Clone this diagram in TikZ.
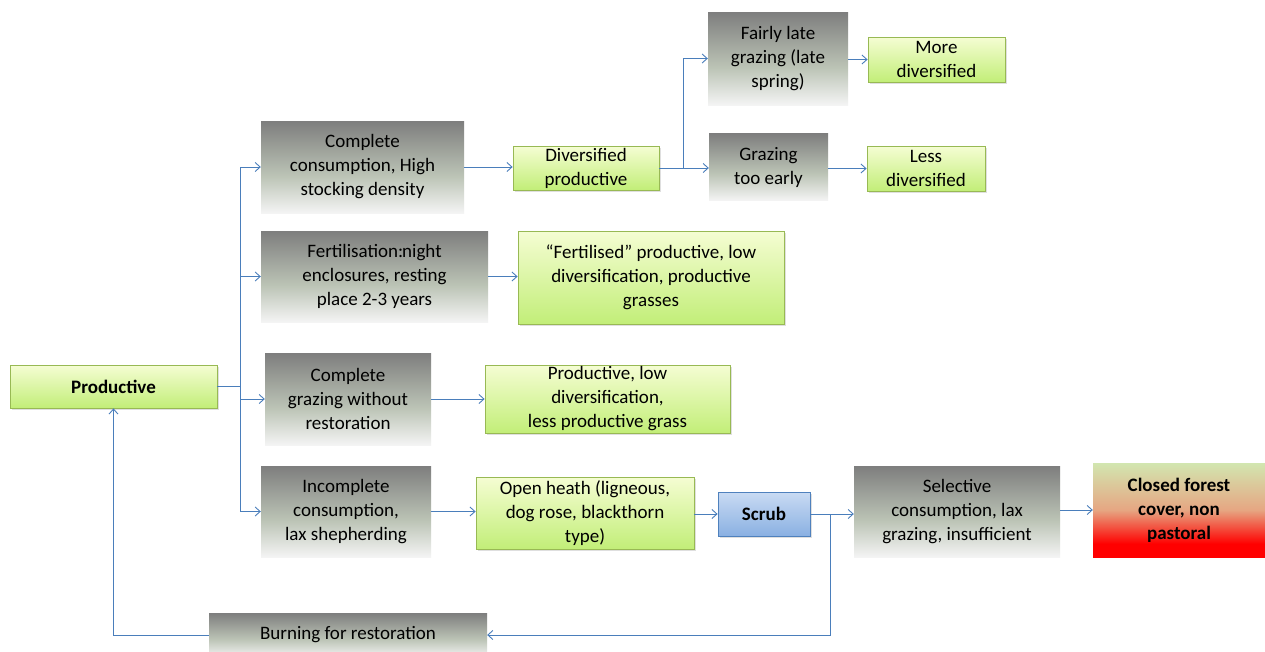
\documentclass[tikz,border=0pt]{standalone}
\usepackage{fontspec}
\setmainfont{Carlito}
\usetikzlibrary{arrows.meta,shadows}
\definecolor{linkblue}{HTML}{4A7EBB}
\definecolor{gtop}{HTML}{7E7E7E}
\definecolor{gmid}{HTML}{BCC4B6}
\definecolor{gbot}{HTML}{F4F4F4}
\definecolor{lgtop}{HTML}{F5FDD3}
\definecolor{lgbot}{HTML}{C2EE78}
\definecolor{lgedge}{HTML}{98B954}
\definecolor{bltop}{HTML}{C9DBF3}
\definecolor{blbot}{HTML}{8AB0E2}
\definecolor{bledge}{HTML}{4F81BD}
\definecolor{ftop}{HTML}{D2E6B0}
\definecolor{fmid}{HTML}{E6A682}
\definecolor{fbot}{HTML}{FF0000}
\pgfdeclareverticalshading{greyfade}{100bp}{color(0bp)=(gbot); color(25bp)=(gbot); color(45bp)=(gmid); color(75bp)=(gtop); color(100bp)=(gtop)}
\pgfdeclareverticalshading{forestfade}{100bp}{color(0bp)=(fbot); color(32bp)=(fbot); color(50bp)=(fmid); color(75bp)=(ftop); color(100bp)=(ftop)}
\tikzset{
  base/.style={rectangle, inner sep=0pt, align=center, font=\fontsize{19}{24}\selectfont},
  greybox/.style={base, shading=greyfade},
  greenbox/.style={base, top color=lgtop, bottom color=lgbot, draw=lgedge, line width=0.8pt,
    drop shadow={opacity=0.25, shadow xshift=2pt, shadow yshift=-2pt}},
  bluebox/.style={base, top color=bltop, bottom color=blbot, draw=bledge, line width=0.8pt,
    font=\fontsize{19}{24}\selectfont\bfseries,
    drop shadow={opacity=0.25, shadow xshift=2pt, shadow yshift=-2pt}},
  forestbox/.style={base, shading=forestfade, font=\fontsize{19}{24}\selectfont\bfseries},
  conn/.style={draw=linkblue, line width=0.9pt},
  arr/.style={conn, -{Straight Barb[length=5pt, width=9pt]}}
}
\begin{document}
\begin{tikzpicture}[x=1pt, y=-1pt]
\useasboundingbox (0,0) rectangle (1265,651);
\fill[white] (0,0) rectangle (1265,651);

% boxes
\node[greenbox, minimum width=207pt, minimum height=43pt, font=\fontsize{19}{24}\selectfont\bfseries] (prod) at (113.5,386.5) {Productive};
\node[greybox, minimum width=203pt, minimum height=92pt] (cc) at (362.5,167) {Complete\\consumption, High\\stocking density};
\node[greenbox, minimum width=146pt, minimum height=44pt] (div) at (586,168) {Diversified\\productive};
\node[greybox, minimum width=140pt, minimum height=93pt] (flg) at (778,58.5) {Fairly late\\grazing (late\\spring)};
\node[greenbox, minimum width=137pt, minimum height=45pt] (more) at (936.5,59.5) {More\\diversified};
\node[greybox, minimum width=119pt, minimum height=67pt] (gte) at (768.5,167) {Grazing\\too early};
\node[greenbox, minimum width=118pt, minimum height=45pt] (less) at (926,168.5) {Less\\diversified};
\node[greybox, minimum width=227pt, minimum height=91pt] (fert) at (374.5,276.5) {Fertilisation:\kern-1pt night\\enclosures, resting\\place 2-3 years};
\node[greenbox, minimum width=266pt, minimum height=93pt] (fprod) at (651,277.5) {“Fertilised” productive, low\\diversification, productive\\grasses};
\node[greybox, minimum width=166pt, minimum height=92pt] (cg) at (348,399) {Complete\\grazing without\\restoration};
\node[greenbox, minimum width=245pt, minimum height=68pt] (plow) at (607.5,399) {Productive, low\\diversification,\\less productive grass};
\node[greybox, minimum width=170pt, minimum height=91pt] (inc) at (346,511.5) {Incomplete\\consumption,\\lax shepherding};
\node[greenbox, minimum width=218pt, minimum height=72pt] (heath) at (585,513) {Open heath (ligneous,\\dog rose, blackthorn\\type)};
\node[bluebox, minimum width=92pt, minimum height=44pt] (scrub) at (764,514) {Scrub};
\node[greybox, minimum width=206pt, minimum height=91pt] (sel) at (957,511.5) {Selective\\consumption, lax\\grazing, insufficient};
\node[forestbox, minimum width=172pt, minimum height=94pt] (forest) at (1179,510) {Closed forest\\cover, non\\pastoral};
\node[greybox, minimum width=278pt, minimum height=44pt] (burn) at (348,635) {Burning for restoration};

% junction points
\coordinate (trk) at (240,0);
\coordinate (dbr) at (683,0);
\coordinate (sbr) at (830,0);

% connectors from the productive stage
\draw[conn] (prod.east) -- (prod.east -| trk);
\draw[conn] (trk |- cc.west) -- (trk |- inc.west);
\draw[arr] (trk |- cc.west) -- (cc.west);
\draw[arr] (trk |- fert.west) -- (fert.west);
\draw[arr] (trk |- cg.west) -- (cg.west);
\draw[arr] (trk |- inc.west) -- (inc.west);

% upper branch
\draw[arr] (cc.east) -- (cc.east -| div.west);
\draw[arr] (div.east) -- (div.east -| gte.west);
\draw[arr] (div.east -| dbr) |- (flg.west);
\draw[arr] (flg.east |- more.west) -- (more.west);
\draw[arr] (gte.east |- less.west) -- (less.west);

% middle branches
\draw[arr] (fert.east) -- (fert.east -| fprod.west);
\draw[arr] (cg.east) -- (cg.east -| plow.west);

% lower branch
\draw[arr] (inc.east) -- (inc.east -| heath.west);
\draw[arr] (heath.east |- scrub.west) -- (scrub.west);
\draw[arr] (scrub.east) -- (scrub.east -| sel.west);
\draw[arr] (sel.east |- forest.west) -- (forest.west);
\draw[arr] (scrub.east -| sbr) |- (burn.east);
\draw[arr] (burn.west) -| (prod.south);
\end{tikzpicture}
\end{document}
